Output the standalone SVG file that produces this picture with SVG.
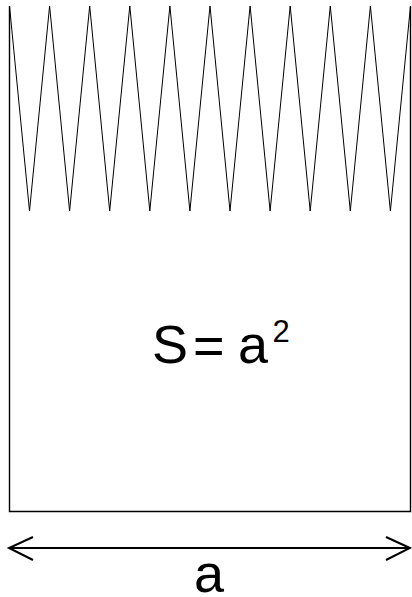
<svg xmlns="http://www.w3.org/2000/svg" width="412" height="597" viewBox="0 0 412 597">
<style>
.t{font-family:"Liberation Sans",Arial,sans-serif;fill:#000}
.edge{stroke:#000;stroke-width:1.4;fill:none}
.zig{stroke:#000;stroke-width:1;fill:none;stroke-linejoin:miter}
</style>
<rect width="412" height="597" fill="#fff"/>
<g id="shape">
<polyline class="edge" points="9.5,6 9.5,511.5 410.5,511.5 410.5,6"/>
<polyline class="zig" points="9.5,6 29.5,211 49.6,6 69.6,211 89.7,6 109.7,211 129.8,6 149.8,211 169.9,6 189.9,211 210,6 230,211 250.1,6 270.1,211 290.2,6 310.2,211 330.3,6 350.3,211 370.4,6 390.4,211 410.5,6"/>
</g>
<g id="formula">
<text class="t" x="152" y="363" font-size="54">S</text>
<text class="t" x="193" y="364" font-size="54">=</text>
<text class="t" x="238" y="363" font-size="54">a</text>
<text class="t" x="272.5" y="342" font-size="31">2</text>
</g>
<g id="connectors">
<line x1="9" y1="548" x2="410" y2="548" stroke="#000" stroke-width="2"/>
<polyline points="33,537 9,548 33,560" stroke="#000" stroke-width="2" fill="none"/>
<polyline points="386,537 410,548 386,560" stroke="#000" stroke-width="2" fill="none"/>
</g>
<g id="label">
<text class="t" x="194" y="592" font-size="54">a</text>
</g>
</svg>
